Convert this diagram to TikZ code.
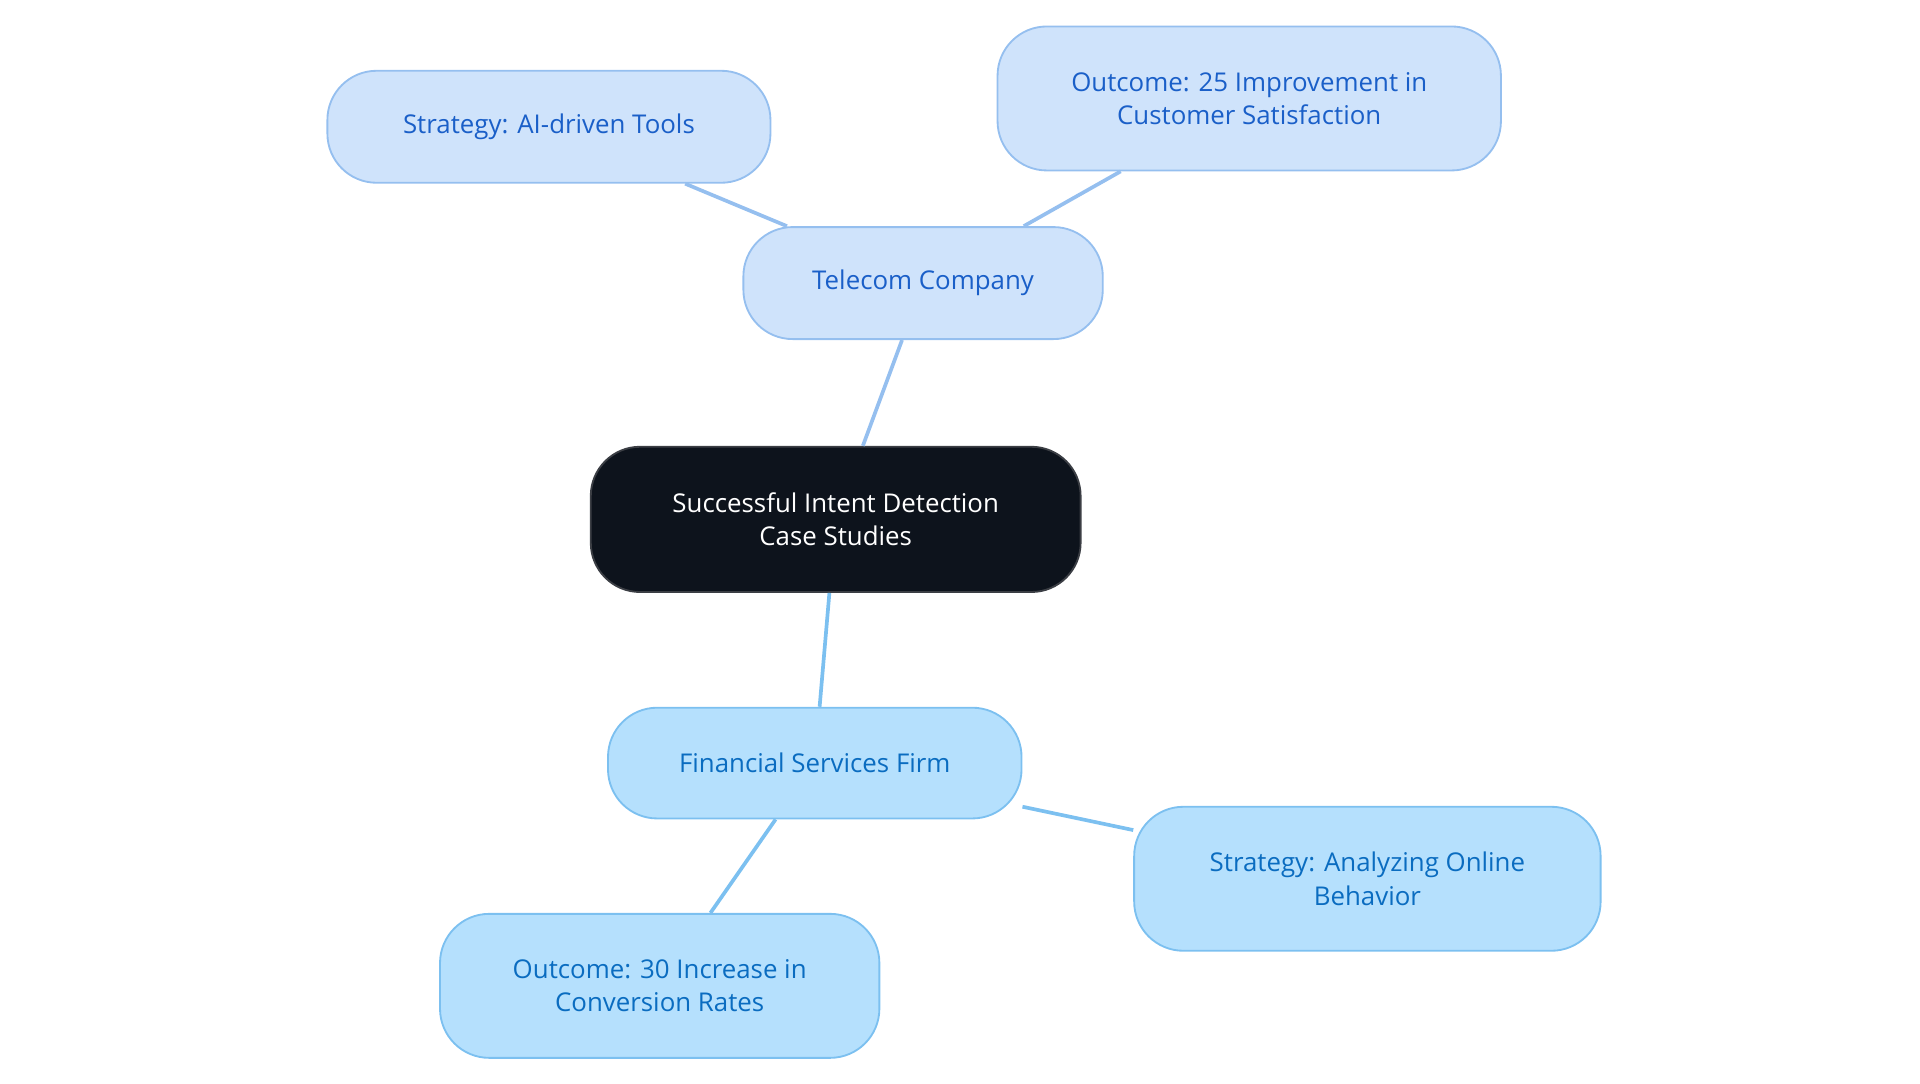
\documentclass[tikz,border=0pt]{standalone}
\usepackage{fontspec}
\setmainfont{Open Sans}
\begin{document}
\begin{tikzpicture}[x=1pt,y=-1pt,
 box/.style={rounded corners=40pt,line width=1.5pt,align=center,inner sep=0pt,font=\fontsize{21}{27}\selectfont},
 top/.style={box,fill=topf,draw=topd,text=topt},
 bot/.style={box,fill=botf,draw=botd,text=bott},
 etop/.style={draw=topd,line width=3pt},
 ebot/.style={draw=botd,line width=3pt}]
\definecolor{topf}{HTML}{CFE3FB}\definecolor{topd}{HTML}{95BFEF}\definecolor{topt}{HTML}{1A5FC8}
\definecolor{botf}{HTML}{B5E0FD}\definecolor{botd}{HTML}{7CC0F0}\definecolor{bott}{HTML}{0A6CC0}
\definecolor{cen}{HTML}{0D131C}
\useasboundingbox (0,0) rectangle (1560,880);
\node[box,fill=cen,draw=cen!60!gray,text=white,minimum width=398pt,minimum height=118pt] (c) at (679,422) {Successful Intent Detection\\Case Studies};
\node[top,minimum width=292pt,minimum height=91pt] (t) at (750,230) {Telecom Company};
\node[top,minimum width=360pt,minimum height=91pt] (ts) at (446,103) {Strategy: AI-driven Tools};
\node[top,minimum width=409pt,minimum height=117pt] (to) at (1015,80) {Outcome: 25 Improvement in\\Customer Satisfaction};
\node[bot,minimum width=336pt,minimum height=90pt] (f) at (662,620) {Financial Services Firm};
\node[bot,minimum width=379pt,minimum height=117pt] (fs) at (1111,714) {Strategy: Analyzing Online\\Behavior};
\node[bot,minimum width=357pt,minimum height=117pt] (fo) at (536,801) {Outcome: 30 Increase in\\Conversion Rates};
\begin{scope}[on background layer/.try]
\end{scope}
\draw[etop] (t) -- (c);
\draw[etop] (t) -- (ts);
\draw[etop] (t) -- (to);
\draw[ebot] (f) -- (c);
\draw[ebot] (f) -- (fs);
\draw[ebot] (f) -- (fo);
\end{tikzpicture}
\end{document}
